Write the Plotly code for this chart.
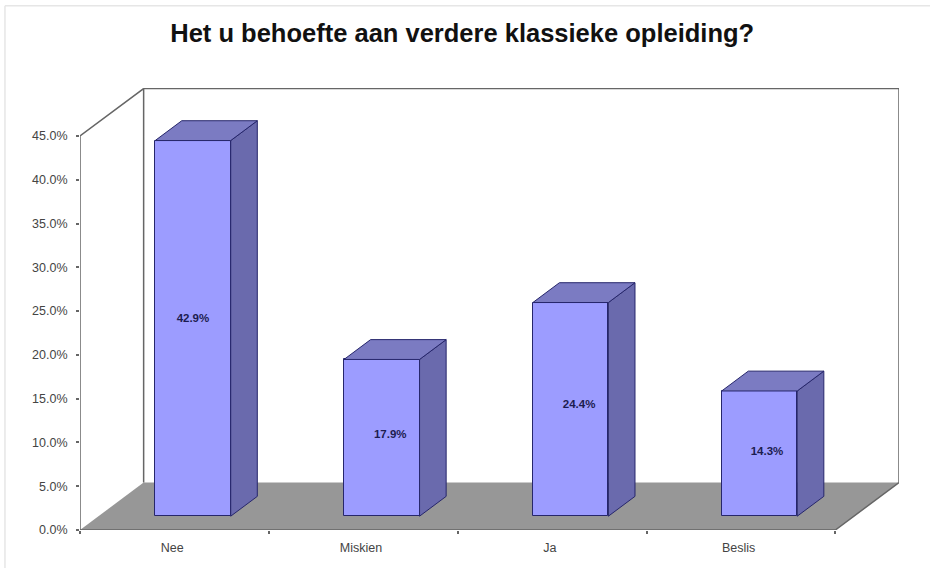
"""Excel-style 3D column chart drawn on a flat Plotly cartesian plot."""

import plotly.graph_objects as go

categories = ["Nee", "Miskien", "Ja", "Beslis"]
values = [42.9, 17.9, 24.4, 14.3]
y_ticks = [0, 5, 10, 15, 20, 25, 30, 35, 40, 45]
y_tick_labels = [f"{t:.1f}%" for t in y_ticks]

# oblique depth of the box, in axis units
DEPTH_X = 0.337
DEPTH_Y = 5.42
BAR_WIDTH = 0.4
BAR_START = 0.291  # share of the depth where a bar's front face sits
BAR_DEPTH = 0.418  # share of the depth taken up by a bar
LABEL_NUDGE = [0.0, 0.045, 0.045, 0.04]  # Excel left three labels off centre

FRONT = "#9c9cff"
SIDE = "#6a6aad"
TOP = "#7b7bc2"
EDGE = "#26266b"
WALL_LINE = "#666666"
FLOOR = "#979797"

x_left = -0.5
x_right = len(categories) - 0.5
bar_dx = DEPTH_X * BAR_START
bar_dy = DEPTH_Y * BAR_START
side_dx = DEPTH_X * BAR_DEPTH
side_dy = DEPTH_Y * BAR_DEPTH
centers = list(range(len(categories)))


def poly(points, color):
    xs = [p[0] for p in points] + [points[0][0]]
    ys = [p[1] for p in points] + [points[0][1]]
    return go.Scatter(
        x=xs, y=ys, mode="lines", fill="toself", fillcolor=color,
        line=dict(color=EDGE, width=1), hoverinfo="skip", showlegend=False,
    )


def wall_line(xs, ys):
    return go.Scatter(
        x=xs, y=ys, mode="lines", line=dict(color=WALL_LINE, width=1.5),
        hoverinfo="skip", showlegend=False,
    )


fig = go.Figure()

# front faces
fig.add_trace(go.Bar(
    x=[c + bar_dx for c in centers],
    y=values,
    base=bar_dy,
    width=BAR_WIDTH,
    marker=dict(color=FRONT, line=dict(color=EDGE, width=1)),
    hovertext=categories,
    showlegend=False,
))

# side and top faces
for c, v in zip(centers, values):
    left = c + bar_dx - BAR_WIDTH / 2
    right = c + bar_dx + BAR_WIDTH / 2
    bottom = bar_dy
    top = bar_dy + v
    fig.add_trace(poly([
        (right, bottom), (right + side_dx, bottom + side_dy),
        (right + side_dx, top + side_dy), (right, top),
    ], SIDE))
    fig.add_trace(poly([
        (left, top), (right, top),
        (right + side_dx, top + side_dy), (left + side_dx, top + side_dy),
    ], TOP))

# value labels sit slightly above the middle of the front face, as Excel does
fig.add_trace(go.Scatter(
    x=[c + bar_dx + n for c, n in zip(centers, LABEL_NUDGE)],
    y=[bar_dy + v * 0.53 - 0.25 for v in values],
    mode="text",
    text=[f"{v:.1f}%" for v in values],
    textposition="middle center",
    textfont=dict(family="Liberation Sans", size=11.5, color="#1c1c50", weight="bold"),
    hoverinfo="skip",
    showlegend=False,
))

# box outline: left wall, back wall, front axes
top_val = y_ticks[-1]
fig.add_trace(wall_line([x_left, x_left, x_left + DEPTH_X, x_left + DEPTH_X],
                        [0, top_val, top_val + DEPTH_Y, DEPTH_Y]))
fig.add_trace(wall_line([x_left + DEPTH_X, x_right + DEPTH_X, x_right + DEPTH_X],
                        [top_val + DEPTH_Y, top_val + DEPTH_Y, DEPTH_Y]))
fig.add_trace(wall_line([x_left, x_right, x_right + DEPTH_X],
                        [0, 0, DEPTH_Y]))

floor_path = (
    f"M {x_left} 0 L {x_right} 0 L {x_right + DEPTH_X} {DEPTH_Y} "
    f"L {x_left + DEPTH_X} {DEPTH_Y} Z"
)

fig.update_layout(
    width=930,
    height=568,
    autosize=False,
    paper_bgcolor="white",
    plot_bgcolor="white",
    margin=dict(l=80, r=31, t=88, b=38),
    bargap=0,
    title=dict(
        text="<b>Het u behoefte aan verdere klassieke opleiding?</b>",
        x=0.497, xanchor="center", y=0.942, yanchor="middle",
        font=dict(family="Liberation Sans", size=25.5, color="#111111"),
    ),
    font=dict(family="Liberation Sans", size=12.5, color="#333333"),
    shapes=[
        dict(type="path", path=floor_path, layer="below",
             fillcolor=FLOOR, line=dict(width=0)),
        # light border of the original picture
        dict(type="line", xref="paper", yref="paper", x0=-0.0916, x1=-0.0916, y0=-0.09, y1=1.186,
             line=dict(color="#e6e6e6", width=1.5)),
        dict(type="line", xref="paper", yref="paper", x0=-0.0916, x1=1.04, y0=1.186, y1=1.186,
             line=dict(color="#e6e6e6", width=1.5)),
    ],
)
fig.update_xaxes(
    range=[x_left, x_right + DEPTH_X],
    tickmode="array",
    tickvals=[c - 0.012 for c in centers],
    ticktext=categories,
    ticks="",
    ticklabelstandoff=8,
    showgrid=False,
    zeroline=False,
    showline=False,
    tickfont=dict(size=12.5, color="#444444"),
    minor=dict(
        tickmode="array",
        tickvals=[c - 0.5 for c in centers] + [x_right],
        ticks="outside", ticklen=3, tickwidth=1.5, tickcolor=WALL_LINE, showgrid=False,
    ),
)
fig.update_yaxes(
    range=[0, 50.48],
    tickmode="array",
    tickvals=y_ticks,
    ticktext=y_tick_labels,
    ticks="outside",
    ticklen=3,
    tickwidth=1.5,
    tickcolor=WALL_LINE,
    ticklabelstandoff=6,
    showgrid=False,
    zeroline=False,
    showline=False,
    tickfont=dict(size=12.5, color="#444444"),
)

# drop the page's default body margin so the figure fills the window
fig.write_html(
    "out.html",
    config={"displayModeBar": False},
    post_script="document.body.style.margin = '0';",
)
